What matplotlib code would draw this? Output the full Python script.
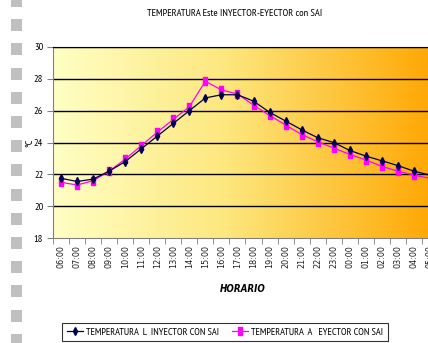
import matplotlib
matplotlib.use("Agg")
import matplotlib.pyplot as plt
import numpy as np
from matplotlib.colors import LinearSegmentedColormap
from matplotlib.patches import Rectangle
from matplotlib.lines import Line2D

NARROW = ['PT Sans Narrow', 'Liberation Sans', 'DejaVu Sans']
plt.rcParams['font.family'] = NARROW

hours = ["06:00", "07:00", "08:00", "09:00", "10:00", "11:00", "12:00", "13:00",
         "14:00", "15:00", "16:00", "17:00", "18:00", "19:00", "20:00", "21:00",
         "22:00", "23:00", "00:00", "01:00", "02:00", "03:00", "04:00", "05:00"]
inyector = [21.75, 21.55, 21.7, 22.2, 22.8, 23.6, 24.4, 25.2, 26.0, 26.8, 27.0, 27.0,
            26.6, 25.9, 25.35, 24.8, 24.3, 24.0, 23.5, 23.15, 22.85, 22.55, 22.2, 21.95]
eyector = [21.5, 21.33, 21.6, 22.2, 22.95, 23.8, 24.65, 25.45, 26.25, 27.85, 27.3, 27.05,
           26.35, 25.7, 25.1, 24.5, 24.05, 23.65, 23.25, 22.9, 22.5, 22.2, 21.95, 21.75]
yticks = [18, 20, 22, 24, 26, 28, 30]
series_names = ['TEMPERATURA  L  INYECTOR CON SAI', 'TEMPERATURA  A   EYECTOR CON SAI']

W, H = 428, 343
fig = plt.figure(figsize=(W / 100, H / 100), dpi=100)
fig.patch.set_facecolor('white')

# grey squares at left edge
for i in range(15):
    top = -5 + i * 24.2
    fig.patches.append(Rectangle((11 / W, 1 - (top + 12) / H), 11 / W, 12 / H,
                                 transform=fig.transFigure, facecolor='#c0c0c0',
                                 edgecolor='none', zorder=0))

L, R, T, B = 53, 438, 47, 238
ax = fig.add_axes([L / W, 1 - B / H, (R - L) / W, (B - T) / H])

cmap = LinearSegmentedColormap.from_list('g', [(0, '#ffffc4'), (0.45, '#fde77e'), (1.0, '#ffa600')])
grad = np.linspace(0, 1, 256).reshape(1, -1)
ax.imshow(grad, cmap=cmap, aspect='auto', extent=[0, 1, 0, 1], transform=ax.transAxes, zorder=0)

x = np.arange(len(hours))
ax.set_xlim(-0.5, len(hours) - 0.5)
ax.set_ylim(18, 30)
for yv in yticks[1:]:
    ax.axhline(yv, color='black', lw=1.0, zorder=1)

rect_marker = [(-0.55, -1), (0.55, -1), (0.55, 1), (-0.55, 1), (-0.55, -1)]
ax.plot(x, inyector, color='#000040', lw=0.9, marker='d', ms=3.8, mfc='#000050', mec='#000050', zorder=3)
ax.plot(x, eyector, color='#ff00ff', lw=0.9, marker=rect_marker, ms=6, mfc='#ff00ff', mec='#ff00ff', zorder=2)

ax.set_yticks(yticks)
ax.set_yticklabels([str(v) for v in yticks], fontsize=7.5)
ax.set_xticks(x)
ax.set_xticklabels(hours, rotation=90, fontsize=6.5, family=['DejaVu Sans'], stretch='condensed', color='#202020')
ax.set_xticks(np.arange(-0.5, len(hours), 1), minor=True)
ax.tick_params(axis='x', which='major', length=0, pad=5)
ax.tick_params(axis='x', which='minor', length=4, color='#808080', direction='out')
ax.tick_params(axis='y', length=4, color='#808080', pad=3)
for s in ['left', 'bottom']:
    ax.spines[s].set_color('#808080')
ax.spines['top'].set_color('black')
ax.spines['right'].set_visible(False)

ax.set_ylabel('°C', fontsize=7.5)
ax.yaxis.set_label_coords((34 - L) / (R - L), 0.5)
ax.set_xlabel('HORARIO', fontsize=7, fontweight='bold', style='italic',
              family=['DejaVu Sans'], stretch='condensed')
ax.xaxis.set_label_coords((243 - L) / (R - L), -(289 - B) / (B - T))
ax.xaxis.label.set_va('center')

fig.text(235 / W, 1 - 14 / H, 'TEMPERATURA Este INYECTOR-EYECTOR con SAI', ha='center', va='center', fontsize=7.5)

h1 = Line2D([], [], color='#000040', lw=0.9, marker='d', ms=3.8, mfc='#000050', mec='#000050')
h2 = Line2D([], [], color='#ff00ff', lw=0.9, marker=rect_marker, ms=6, mfc='#ff00ff', mec='#ff00ff')

FS = 7.4
def make_leg(cs):
    lg = fig.legend([h1, h2], series_names,
                    loc='upper left', bbox_to_anchor=(62 / W, 1 - 323 / H), ncol=2, fontsize=FS,
                    frameon=True, fancybox=False, edgecolor='black', borderaxespad=0,
                    handlelength=1.6, handletextpad=0.3, columnspacing=cs, borderpad=0.45)
    lg.get_frame().set_linewidth(0.8)
    return lg

r = fig.canvas.get_renderer()
cs = 2.0
leg = make_leg(cs)
for _ in range(3):
    w = leg.get_window_extent(r).width
    leg.remove()
    cs = max(0.8, cs + (326 - w) / (FS * 100 / 72))
    leg = make_leg(cs)

fig.savefig('out.png', dpi=100)
